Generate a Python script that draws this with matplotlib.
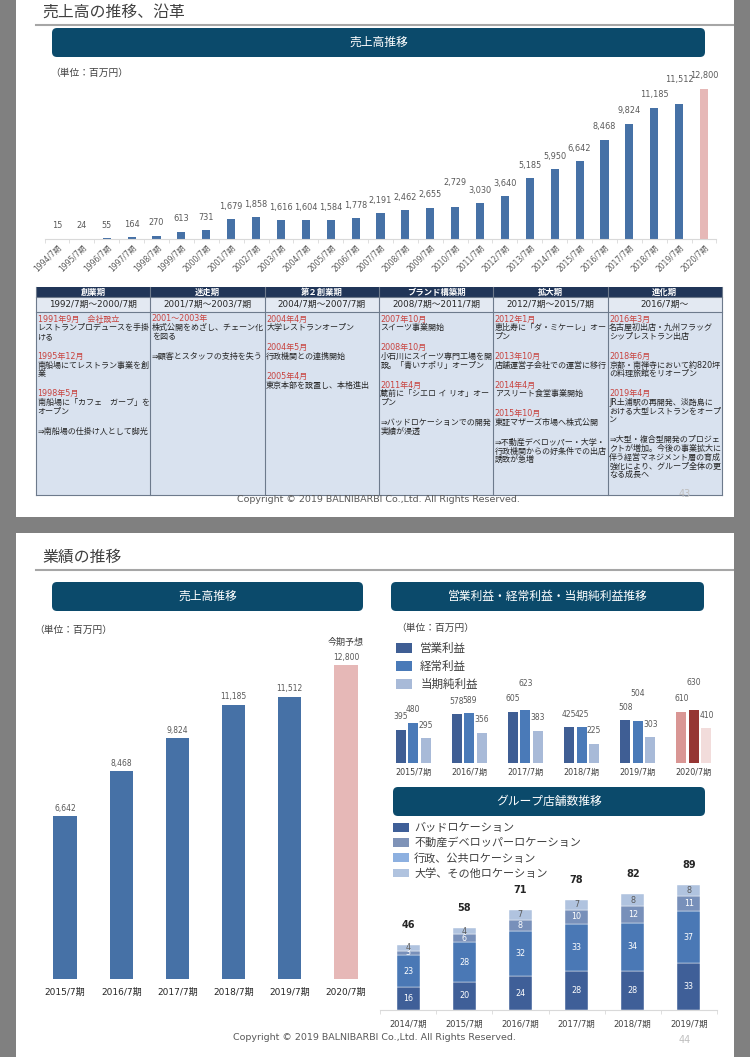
import numpy as np
import matplotlib
matplotlib.use("Agg")
import matplotlib.pyplot as plt
from matplotlib.patches import Rectangle, FancyBboxPatch

JP = ["Noto Sans CJK JP", "DejaVu Sans"]
NUM = ["DejaVu Sans", "Noto Sans CJK JP"]
plt.rcParams["font.family"] = NUM

# ---- data ----
years_long = [f"{y}/7期" for y in range(1994, 2021)]
sales_long = [15, 24, 55, 164, 270, 613, 731, 1679, 1858, 1616, 1604, 1584, 1778,
              2191, 2462, 2655, 2729, 3030, 3640, 5185, 5950, 6642, 8468, 9824,
              11185, 11512, 12800]

years_recent = ["2015/7期", "2016/7期", "2017/7期", "2018/7期", "2019/7期", "2020/7期"]
sales_recent = [6642, 8468, 9824, 11185, 11512, 12800]

profit_names = ["営業利益", "経常利益", "当期純利益"]
op_profit = [395, 578, 605, 425, 508, 610]
ord_profit = [480, 589, 623, 425, 504, 630]
net_profit = [295, 356, 383, 225, 303, 410]

store_years = ["2014/7期", "2015/7期", "2016/7期", "2017/7期", "2018/7期", "2019/7期"]
store_names = ["バッドロケーション", "不動産デベロッパーロケーション",
               "行政、公共ロケーション", "大学、その他ロケーション"]
stores_bad = [16, 20, 24, 28, 28, 33]
stores_public = [23, 28, 32, 33, 34, 37]
stores_dev = [3, 6, 8, 10, 12, 11]
stores_univ = [4, 4, 7, 7, 8, 8]

table_phases = ["創業期", "迷走期", "第２創業期", "ブランド構築期", "拡大期", "進化期"]
table_periods = ["1992/7期～2000/7期", "2001/7期～2003/7期", "2004/7期～2007/7期",
                 "2008/7期～2011/7期", "2012/7期～2015/7期", "2016/7期～"]
# lines starting with * are dates (red)
table_notes = [
    ["*1991年9月　会社設立", "レストランプロデュースを手掛", "ける", "",
     "*1995年12月", "南船場にてレストラン事業を創", "業", "",
     "*1998年5月", "南船場に「カフェ　ガーブ」を", "オープン", "",
     "⇒南船場の仕掛け人として脚光"],
    ["*2001～2003年", "株式公開をめざし、チェーン化", "を図る", "",
     "⇒顧客とスタッフの支持を失う"],
    ["*2004年4月", "大学レストランオープン", "",
     "*2004年5月", "行政機関との連携開始", "",
     "*2005年4月", "東京本部を設置し、本格進出"],
    ["*2007年10月", "スイーツ事業開始", "",
     "*2008年10月", "小石川にスイーツ専門工場を開", "設。「青いナポリ」オープン", "",
     "*2011年4月", "蔵前に「シエロ イ リオ」オー", "プン", "",
     "⇒バッドロケーションでの開発", "実績が浸透"],
    ["*2012年1月", "恵比寿に「ダ・ミケーレ」オー", "プン", "",
     "*2013年10月", "店舗運営子会社での運営に移行", "",
     "*2014年4月", "アスリート食堂事業開始", "",
     "*2015年10月", "東証マザーズ市場へ株式公開", "",
     "⇒不動産デベロッパー・大学・", "行政機関からの好条件での出店", "誘致が急増"],
    ["*2016年3月", "名古屋初出店・九州フラッグ", "シップレストラン出店", "",
     "*2018年6月", "京都・南禅寺において約820坪", "の料理旅館をリオープン", "",
     "*2019年4月", "JR土浦駅の再開発、淡路島に", "おける大型レストランをオープ", "ン", "",
     "⇒大型・複合型開発のプロジェ", "クトが増加。今後の事業拡大に", "伴う経営マネジメント層の育成",
     "強化により、グループ全体の更", "なる成長へ"],
]

# ---- colours ----
NAVY = "#0B4A6B"
BLUE = "#4671A6"
PINK = "#E6B8B7"
LABEL = "#595959"

W, H = 750, 1057
fig = plt.figure(figsize=(W / 100, H / 100), dpi=100)
fig.patch.set_facecolor("#808080")

bg = fig.add_axes([0, 0, 1, 1])
bg.set_xlim(0, W)
bg.set_ylim(H, 0)
bg.axis("off")


def px_axes(x0, y0, x1, y1):
    ax = fig.add_axes([x0 / W, 1 - y1 / H, (x1 - x0) / W, (y1 - y0) / H])
    ax.patch.set_visible(False)
    return ax


def banner(x0, y0, x1, y1, text):
    bg.add_patch(FancyBboxPatch((x0, y0), x1 - x0, y1 - y0,
                                boxstyle="round,pad=0,rounding_size=5",
                                fc=NAVY, ec="none"))
    bg.text((x0 + x1) / 2, (y0 + y1) / 2, text, color="white", ha="center",
            va="center", fontsize=8.5, family=JP)


def slide_title(y, text):
    bg.text(42, y, text, fontsize=11.4, color="#404040", va="center", family=JP)
    bg.plot([36, 733], [y + 12.5, y + 12.5], color="#A6A6A6", lw=1.5)


# slides
bg.add_patch(Rectangle((16, 0), 718, 517, fc="white", ec="none"))
bg.add_patch(Rectangle((16, 533), 718, 524, fc="white", ec="none"))

# ================= slide 43 =================
slide_title(12, "売上高の推移、沿革")
banner(52, 28, 705, 57, "売上高推移")
bg.text(50, 73, "（単位：百万円）", fontsize=7, color="#404040", va="center", family=JP)

px_per_unit = 150 / 12800
ax1 = px_axes(44.5, 60, 716.5, 239)
x = np.arange(len(years_long))
colors1 = [PINK if y.startswith("2020") else BLUE for y in years_long]
ax1.bar(x, sales_long, width=0.33, color=colors1)
ax1.set_xlim(-0.5, len(years_long) - 0.5)
ax1.set_ylim(0, 179 / px_per_unit)
raised = {"2010/7期", "2019/7期"}
for i, v in enumerate(sales_long):
    lift = 8 if years_long[i] in raised else 0
    ax1.annotate(f"{v:,}", (i, v), xytext=(0, 9.4 + lift), textcoords="offset points",
                 ha="center", va="center", fontsize=5.9, color=LABEL)
for s in ["top", "left", "right"]:
    ax1.spines[s].set_visible(False)
ax1.spines["bottom"].set_color("#D9D9D9")
ax1.set_yticks([])
ax1.set_xticks(x)
ax1.set_xticklabels(years_long, rotation=45, ha="right", rotation_mode="anchor",
                    fontsize=5.5, color=LABEL)
ax1.set_xticks(np.arange(-0.5, len(years_long)), minor=True)
ax1.tick_params(axis="x", which="major", length=0, pad=3)
ax1.tick_params(axis="x", which="minor", length=3, color="#D9D9D9")

# history table
tx0, tx1 = 36, 722
col_w = (tx1 - tx0) / len(table_phases)
bg.add_patch(Rectangle((tx0, 287), tx1 - tx0, 10, fc="#203558", ec="none"))
bg.add_patch(Rectangle((tx0, 297), tx1 - tx0, 15, fc="#E3E9F2", ec="none"))
bg.add_patch(Rectangle((tx0, 312), tx1 - tx0, 183, fc="#D9E2EF", ec="none"))
for y in [297, 312, 495]:
    bg.plot([tx0, tx1], [y, y], color="#6D7A8C", lw=0.8)
for i in range(len(table_phases) + 1):
    cx = tx0 + i * col_w
    bg.plot([cx, cx], [287, 495], color="#6D7A8C", lw=0.8)
for i, (phase, period, notes) in enumerate(zip(table_phases, table_periods, table_notes)):
    cx = tx0 + i * col_w
    bg.text(cx + col_w / 2, 292, phase, color="white", fontweight="bold",
            ha="center", va="center", fontsize=6)
    bg.text(cx + col_w / 2, 304.5, period, color="#262626", ha="center",
            va="center", fontsize=6.3)
    y = 319
    for line in notes:
        if line == "":
            y += 11.3
            continue
        red = line.startswith("*")
        bg.text(cx + 1.5, y, line.lstrip("*"), color="#C8433F" if red else "#262626",
                va="center", ha="left", fontsize=5.8)
        y += 8.7

bg.text(378, 500, "Copyright © 2019 BALNIBARBI Co.,Ltd. All Rights Reserved.",
        ha="center", va="center", fontsize=6.8, color=LABEL)
bg.text(685, 494, "43", ha="center", va="center", fontsize=7, color="#BFBFBF")

# ================= slide 44 =================
slide_title(557, "業績の推移")
banner(52, 582, 363, 611, "売上高推移")
banner(391, 582, 704, 611, "営業利益・経常利益・当期純利益推移")
banner(393, 787, 705, 816, "グループ店舗数推移")
bg.text(34, 630, "（単位：百万円）", fontsize=7, color="#404040", va="center", family=JP)
bg.text(396, 628, "（単位：百万円）", fontsize=7, color="#404040", va="center", family=JP)

# sales (recent)
ax2 = px_axes(36.9, 640, 374.1, 979)
x2 = np.arange(len(years_recent))
colors2 = [PINK if y.startswith("2020") else BLUE for y in years_recent]
ax2.bar(x2, sales_recent, width=0.41, color=colors2)
ax2.set_xlim(-0.5, len(years_recent) - 0.5)
ax2.set_ylim(0, 339 / (314 / 12800))
for i, v in enumerate(sales_recent):
    ax2.annotate(f"{v:,}", (i, v), xytext=(0, 5.5), textcoords="offset points",
                 ha="center", va="center", fontsize=5.5, color=LABEL)
ax2.annotate("今期予想", (len(years_recent) - 1, sales_recent[-1]), xytext=(0, 16.5),
             textcoords="offset points", ha="center", va="center", fontsize=6.5,
             color="#404040", family=JP)
for s in ax2.spines.values():
    s.set_visible(False)
ax2.set_yticks([])
ax2.set_xticks(x2)
ax2.set_xticklabels(years_recent, fontsize=6.5, color="#262626")
ax2.tick_params(axis="x", length=0, pad=6.3)

# profits
ax3 = px_axes(385, 680, 722, 763)
x3 = np.arange(len(years_recent))
bw = 0.178
off = 0.222
prof_cols = [["#3F5E94"] * 5 + ["#D99694"],
             ["#4A7AB8"] * 5 + ["#963634"],
             ["#A8BAD8"] * 5 + ["#F2DCDB"]]
lifted = {(1, 2), (1, 4), (1, 5)}
for k, (vals, name) in enumerate(zip([op_profit, ord_profit, net_profit], profit_names)):
    xs = x3 + (k - 1) * off
    ax3.bar(xs, vals, width=bw, color=prof_cols[k], label=name)
    for i, v in enumerate(vals):
        dy = 19.4 if (k, i) in lifted else 9.4
        ax3.annotate(str(v), (xs[i], v), xytext=(0, dy), textcoords="offset points",
                     ha="center", va="center", fontsize=5.5, color=LABEL)
ax3.set_xlim(-0.5, len(years_recent) - 0.5)
ax3.set_ylim(0, 83 / 0.0843)
for s in ax3.spines.values():
    s.set_visible(False)
ax3.set_yticks([])
ax3.set_xticks(x3)
ax3.set_xticklabels(years_recent, fontsize=5.8, color="#404040")
ax3.tick_params(axis="x", length=0, pad=3.6)
leg3 = ax3.legend(loc="upper left", bbox_to_anchor=(396, 642), bbox_transform=bg.transData,
                  frameon=False, prop={"family": JP, "size": 8.3}, labelspacing=0.43,
                  handlelength=1.4, handleheight=0.95, handletextpad=0.7, borderpad=0,
                  borderaxespad=0)
for t in leg3.get_texts():
    t.set_color("#404040")

# store counts
ax4 = px_axes(380, 855, 717, 1010)
x4 = np.arange(len(store_years))
seg_vals = [stores_bad, stores_public, stores_dev, stores_univ]
seg_cols = ["#3F5F98", "#4A78B5", "#7890BA", "#B0C3DF"]
seg_txt = ["white", "white", "white", "#595959"]
bottom = np.zeros(len(store_years))
for vals, col, tc in zip(seg_vals, seg_cols, seg_txt):
    ax4.bar(x4, vals, width=0.41, bottom=bottom, color=col,
            edgecolor="white", linewidth=0.3)
    for i, v in enumerate(vals):
        ax4.text(i, bottom[i] + v / 2, str(v), ha="center", va="center",
                 fontsize=5.8, color=tc)
    bottom += np.array(vals)
for i, tot in enumerate(bottom):
    ax4.annotate(f"{int(tot)}", (i, tot), xytext=(0, 14.4), textcoords="offset points",
                 ha="center", va="center", fontsize=7, fontweight="bold", color="#262626")
ax4.set_xlim(-0.5, len(store_years) - 0.5)
ax4.set_ylim(0, 155 / 1.41)
for s in ["top", "left", "right"]:
    ax4.spines[s].set_visible(False)
ax4.spines["bottom"].set_color("#D9D9D9")
ax4.set_yticks([])
ax4.set_xticks(x4)
ax4.set_xticklabels(store_years, fontsize=6, color="#404040")
ax4.set_xticks(np.arange(-0.5, len(store_years)), minor=True)
ax4.tick_params(axis="x", which="major", length=0, pad=7)
ax4.tick_params(axis="x", which="minor", length=3, color="#D9D9D9")
leg_cols = ["#3F5F98", "#7F93B8", "#8DB0E0", "#B0C3DF"]
leg_handles = [Rectangle((0, 0), 1, 1, fc=c, ec="none") for c in leg_cols]
leg4 = ax4.legend(leg_handles, store_names, loc="upper left", bbox_to_anchor=(393, 823),
                  bbox_transform=bg.transData, frameon=False,
                  prop={"family": JP, "size": 8}, labelspacing=0.4, handlelength=1.45,
                  handleheight=0.8, handletextpad=0.45, borderpad=0, borderaxespad=0)
for t in leg4.get_texts():
    t.set_color("#404040")

bg.text(374, 1038, "Copyright © 2019 BALNIBARBI Co.,Ltd. All Rights Reserved.",
        ha="center", va="center", fontsize=6.8, color=LABEL)
bg.text(685, 1040, "44", ha="center", va="center", fontsize=7, color="#BFBFBF")

fig.savefig("out.png", dpi=100, facecolor=fig.get_facecolor())
